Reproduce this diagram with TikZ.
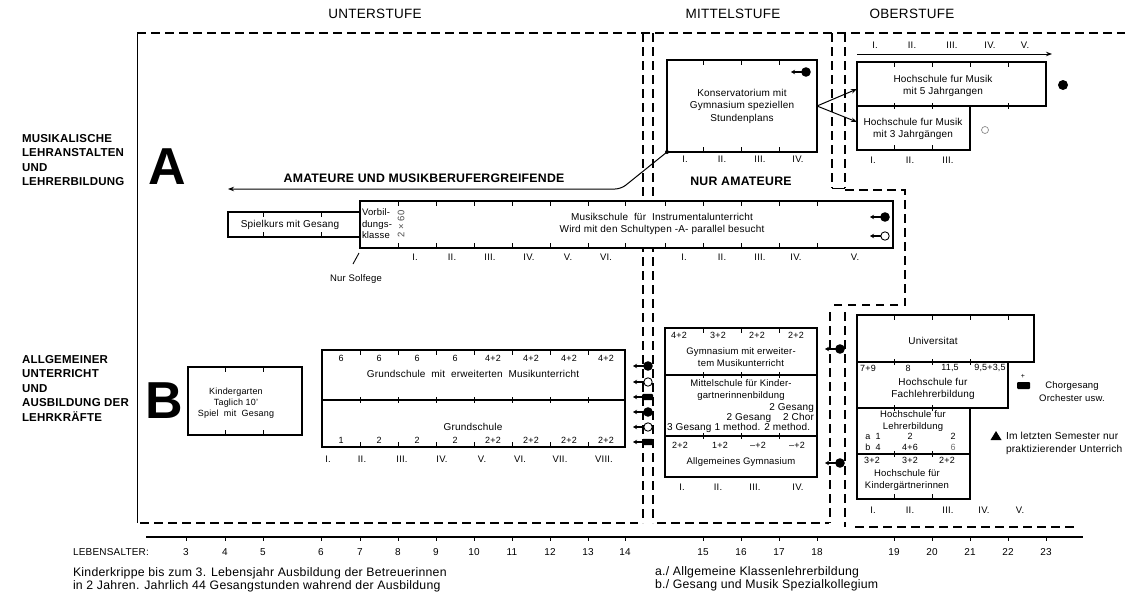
\documentclass[tikz,border=0pt]{standalone}
\usepackage{fontspec}
\setmainfont{Liberation Sans}[LetterSpace=2]
\usetikzlibrary{arrows.meta,calc}
\begin{document}
\begin{tikzpicture}[x=1pt,y=-1pt,
  every node/.style={inner sep=0pt,outer sep=0pt},
  dsh/.style={line width=1.1pt,dash pattern=on 8.5pt off 5.5pt},
  bx/.style={draw,line width=1.2pt,fill=white,anchor=north west},
  tk/.style={line width=1pt},
  arr/.style={line width=1pt,-{Stealth[length=6pt,width=4.5pt]}},
  hdr/.style={font=\fontsize{13.5}{15}\selectfont},
  side/.style={font=\bfseries\fontsize{11.5}{14.5}\selectfont,align=left,anchor=west},
  big/.style={font=\bfseries\fontsize{52}{52}\selectfont},
  band/.style={font=\bfseries\fontsize{12.3}{14}\selectfont},
  tx/.style={font=\fontsize{10}{12.5}\selectfont,align=center},
  tm/.style={font=\fontsize{9.5}{11.5}\selectfont,align=center},
  ts/.style={font=\fontsize{9}{11}\selectfont,align=center},
  num/.style={font=\fontsize{9}{10}\selectfont},
  rom/.style={font=\fontsize{9.5}{10}\selectfont},
  ax/.style={font=\fontsize{10}{11}\selectfont},
  foot/.style={font=\fontsize{12.3}{13}\selectfont,align=left,anchor=west},
  fdot/.pic={\fill (0,0) circle (4.8pt); \draw[line width=1.3pt,-{Stealth[length=4pt,width=4.5pt]}] (-3,0) -- (-15,0);},
  odot/.pic={\draw[line width=0.9pt] (0,0) circle (4.2pt); \draw[line width=1.3pt,-{Stealth[length=4pt,width=4.5pt]}] (-4,0) -- (-15,0);},
  fbar/.pic={\fill[rounded corners=1.2pt] (-6,-3.2) rectangle (5,3.2); \draw[line width=1.3pt,-{Stealth[length=4pt,width=4.5pt]}] (-5,0) -- (-15,0);}
]
\fill[white] (0,0) rectangle (1127,597);
\useasboundingbox (0,0) rectangle (1127,597);

% ---------- headers
\node[hdr] (hU) at (375,14) {UNTERSTUFE};
\node[hdr] (hM) at (733,14) {MITTELSTUFE};
\node[hdr] (hO) at (912,14) {OBERSTUFE};

% ---------- frames
\draw[line width=0.9pt] (137,33) -- (137,523);
\draw[dsh] (137,33) -- (1125,33);
\draw[dsh] (643,33) -- (643,523);
\draw[dsh] (653,33) -- (653,523);
\draw[dsh] (832,33) -- (832,188);
\draw[dsh] (845,33) -- (845,188);
\draw[line width=0.9pt] (832,188) -- (845,188);
\draw[dsh] (845,190) -- (905,190) -- (905,305) -- (830,305);
\draw[dsh] (830,312) -- (830,523);
\draw[dsh] (845,312) -- (845,527);
\draw[dsh] (140,523) -- (638,523);
\draw[dsh] (657,523) -- (829,523);
\draw[dsh] (855,527) -- (1076,527);

% ---------- side labels
\node[side] (labA) at (22,160) {MUSIKALISCHE\\LEHRANSTALTEN\\UND\\LEHRERBILDUNG};
\node[big] (bigA) at (167,167) {A};
\node[side] (labB) at (22,388) {ALLGEMEINER\\UNTERRICHT\\UND\\AUSBILDUNG DER\\LEHRKRÄFTE};
\node[big] (bigB) at (164,401) {B};

% ---------- row A : Konservatorium
\node[bx,minimum width=150pt,minimum height=92pt] (kons) at (667,60) {};
\foreach \x in {703,741,779}{\draw[tk] (\x,60)--(\x,65); \draw[tk] (\x,152)--(\x,147);}
\node[tx] (konsT) at (742,106) {Konservatorium mit\\Gymnasium speziellen\\Stundenplans};
\pic at (806,72) {fdot};
\foreach \x/\rn in {685/I.,722/II.,760/III.,798/IV.}{\node[rom] at (\x,159) {\rn};}
\node[band] (nurA) at (741,181) {NUR AMATEURE};

% ---------- Hochschulen fuer Musik
\node[bx,minimum width=189pt,minimum height=44pt] (hs5) at (857,62) {};
\node[bx,minimum width=113pt,minimum height=44pt] (hs3) at (857,106) {};
\foreach \x in {894,932,970,1008}{\draw[tk] (\x,62)--(\x,67);}
\foreach \x in {894,932,1008}{\draw[tk] (\x,103)--(\x,109);}
\foreach \x in {894,932}{\draw[tk] (\x,150)--(\x,145);}
\node[tx] (hs5T) at (943,86) {Hochschule fur Musik\\mit 5 Jahrgangen};
\node[tx] (hs3T) at (913,129) {Hochschule fur Musik\\mit 3 Jahrgängen};
\draw[arr] (kons.east) -- ([yshift=-5pt]hs5.west);
\draw[arr] (kons.east) -- ([yshift=6pt]hs3.west);
\coordinate (sc0) at (857,54);
\coordinate (sc1) at (1052,54);
\draw[arr] (sc0) -- (sc1);
\foreach \x/\rn in {875/I.,912/II.,952/III.,990/IV.,1025/V.}{\node[rom] at (\x,45) {\rn};}
\foreach \x/\rn in {873/I.,910/II.,948/III.}{\node[rom] at (\x,160) {\rn};}
\fill (1063,85) circle (5pt);
\draw[black!45,line width=0.7pt] (985,130) circle (3.5pt);

% ---------- Amateure arrow
\node[band] (amat) at (424,178) {AMATEURE UND MUSIKBERUFERGREIFENDE};
\coordinate (amL) at (228,189);
\draw[arr,rounded corners=6pt] (kons.south west) -- (621,189) -- (amL);
\fill (kons.south west) circle (2pt);

% ---------- Musikschule band
\node[bx,minimum width=132pt,minimum height=25pt] (spiel) at (228,212) {};
\foreach \x in {263,321}{\draw[tk] (\x,212)--(\x,217); \draw[tk] (\x,237)--(\x,232);}
\node[tx] (spielT) at (290,225) {Spielkurs mit Gesang};
\node[bx,minimum width=533pt,minimum height=47pt] (musik) at (360,201) {};
\foreach \x in {398,436,474,512,550,588,625,665,703,741,779,817}{\draw[tk] (\x,201)--(\x,206); \draw[tk] (\x,248)--(\x,243);}
\node[tm,align=left,anchor=west] (vorb) at (362,224) {Vorbil-\\dungs-\\klasse};
\node[font=\fontsize{9.5}{10}\selectfont,text=black!70,rotate=90] (x60) at (401,224) {2 × 60};
\node[tx] (musikT) at (662,224) {Musikschule\ \ für\ \ Instrumentalunterricht\\Wird mit den Schultypen -A- parallel besucht};
\pic at (885,217) {fdot};
\pic at (885,236) {odot};
\foreach \x/\rn in {415/I.,452/II.,490/III.,529/IV.,568/V.,606/VI.,684/I.,722/II.,760/III.,796/IV.,855/V.}{\node[rom] at (\x,257) {\rn};}
\node[tm] (solf) at (356,279) {Nur Solfege};
\draw[line width=0.9pt] ($(musik.south west)+(-1,5)$) -- ($(musik.south west)+(-7,16)$);

% ---------- row B : Kindergarten
\node[bx,minimum width=114pt,minimum height=68pt] (kg) at (188,367) {};
\foreach \x in {225,263}{\draw[tk] (\x,367)--(\x,372); \draw[tk] (\x,435)--(\x,430);}
\node[ts] (kgT) at (236,403) {Kindergarten\\Taglich 10'\\Spiel\ \ mit\ \ Gesang};

% ---------- Grundschule
\node[bx,minimum width=303pt,minimum height=50pt] (gsm) at (322,350) {};
\node[bx,minimum width=303pt,minimum height=47pt] (gs) at (322,400) {};
\foreach \x in {360,398,436,474,512,550,588}{\draw[tk] (\x,350)--(\x,355); \draw[tk] (\x,397)--(\x,403); \draw[tk] (\x,447)--(\x,442);}
\foreach \x/\lab in {341/6,379/6,417/6,455/6,493/4+2,531/4+2,569/4+2,606/4+2}{\node[num] at (\x,358) {\lab};}
\foreach \x/\lab in {341/1,379/2,417/2,455/2,493/2+2,531/2+2,569/2+2,606/2+2}{\node[num] at (\x,440) {\lab};}
\node[tx] (gsmT) at (473,374) {Grundschule\ \ mit\ \ erweiterten\ \ Musikunterricht};
\node[tx] (gsT) at (473,427) {Grundschule};
\foreach \x/\rn in {328/I.,362/II.,402/III.,442/IV.,482/V.,520/VI.,560/VII.,604/VIII.}{\node[rom] at (\x,459) {\rn};}
\pic at (648,366) {fdot};
\pic at (648,382) {odot};
\pic at (648,397) {fbar};
\pic at (648,412) {fdot};
\pic at (648,427) {odot};
\pic at (648,442) {fbar};

% ---------- Mittelstufe B
\node[bx,minimum width=152pt,minimum height=47pt] (gym) at (665,328) {};
\node[bx,minimum width=152pt,minimum height=61pt] (mks) at (665,375) {};
\node[bx,minimum width=152pt,minimum height=41pt] (ag) at (665,436) {};
\foreach \x in {703,741,779}{\draw[tk] (\x,328)--(\x,333); \draw[tk] (\x,372)--(\x,378); \draw[tk] (\x,433)--(\x,439);}
\foreach \x/\lab in {679/4+2,718/3+2,757/2+2,796/2+2}{\node[num] at (\x,335) {\lab};}
\node[tm] (gymT) at (741,357) {Gymnasium mit erweiter-\\tem Musikunterricht};
\node[tm] (mksT) at (741,390) {Mittelschule für Kinder-\\gartnerinnenbildung};
\node[tx,anchor=east] (g1) at (814,408) {2 Gesang};
\node[tx,anchor=east] (g2) at (814,418) {2 Gesang\hspace{12pt}2 Chor};
\node[tx,anchor=west] (g3) at (667,428) {3 Gesang 1 method. 2 method.};
\foreach \x/\lab in {680/2+2,720/1+2,758/--+2,797/--+2}{\node[num] at (\x,445) {\lab};}
\node[tm] (agT) at (741,462) {Allgemeines Gymnasium};
\foreach \x/\rn in {682/I.,718/II.,755/III.,798/IV.}{\node[rom] at (\x,487) {\rn};}
\pic at (840,349) {fdot};
\pic at (840,463) {fdot};

% ---------- Oberstufe B
\node[bx,minimum width=177pt,minimum height=47pt] (uni) at (857,315) {};
\node[bx,minimum width=151pt,minimum height=46pt] (fach) at (857,362) {};
\node[bx,minimum width=113pt,minimum height=46pt] (lehr) at (857,408) {};
\node[bx,minimum width=113pt,minimum height=45pt] (kgh) at (857,454) {};
\foreach \x in {894,932,970,1008}{\draw[tk] (\x,315)--(\x,320);}
\foreach \x in {894,932,970}{\draw[tk] (\x,359)--(\x,365);}
\foreach \x in {894,932}{\draw[tk] (\x,405)--(\x,411); \draw[tk] (\x,451)--(\x,457); \draw[tk] (\x,499)--(\x,494);}
\node[tx] (uniT) at (933,341) {Universitat};
\node[num] at (868,368) {7+9};
\node[num] at (908,368) {8};
\node[num] at (950,368) {11,5};
\node[num] at (990,368) {9,5+3,5};
\node[tx] (fachT) at (933,389) {Hochschule fur\\Fachlehrerbildung};
\node[tm] (lehrT) at (913,421) {Hochschule fur\\Lehrerbildung};
\node[num] at (873,436) {a\ \ 1};
\node[num] at (910,436) {2};
\node[num] at (953,436) {2};
\node[num] at (873,447) {b\ \ 4};
\node[num] at (910,447) {4+6};
\node[num,text=black!55] at (953,447) {6};
\node[num] at (872,460) {3+2};
\node[num] at (910,460) {3+2};
\node[num] at (947,460) {2+2};
\node[tm] (kghT) at (907,480) {Hochschule für\\Kindergärtnerinnen};
\foreach \x/\rn in {873/I.,910/II.,948/III.,984/IV.,1020/V.}{\node[rom] at (\x,510) {\rn};}

% ---------- legend
\fill[rounded corners=1pt] (1017,382) rectangle (1030,389);
\node[font=\fontsize{7}{7}\selectfont] (plus) at (1023,376) {+};
\node[ts,font=\fontsize{9.5}{13}\selectfont] (leg1) at (1072,392) {Chorgesang\\Orchester usw.};
\fill (996,431) -- (1001.5,440) -- (990.5,440) -- cycle;
\node[ts,font=\fontsize{10.2}{13}\selectfont,align=left,anchor=west] (leg2) at (1006,443) {Im letzten Semester nur\\praktizierender Unterrich};

% ---------- age axis
\node[ax,anchor=west] (leb) at (73,552) {LEBENSALTER:};
\draw[line width=1.3pt] (146,537) -- (1083,537);
\foreach \x/\lab in {186/3,225/4,263/5,321/6,360/7,398/8,436/9,474/10,512/11,550/12,588/13,625/14,703/15,741/16,779/17,817/18,894/19,932/20,970/21,1008/22,1046/23}{\draw[tk] (\x,537)--(\x,541); \node[ax] at (\x,552) {\lab};}

% ---------- footnotes
\node[foot] (fn1) at (73,580) {Kinderkrippe bis zum 3. Lebensjahr Ausbildung der Betreuerinnen\\in 2 Jahren. Jahrlich 44 Gesangstunden wahrend der Ausbildung};
\node[foot] (fn2) at (655,579) {a./ Allgemeine Klassenlehrerbildung\\b./ Gesang und Musik Spezialkollegium};
\end{tikzpicture}
\end{document}
